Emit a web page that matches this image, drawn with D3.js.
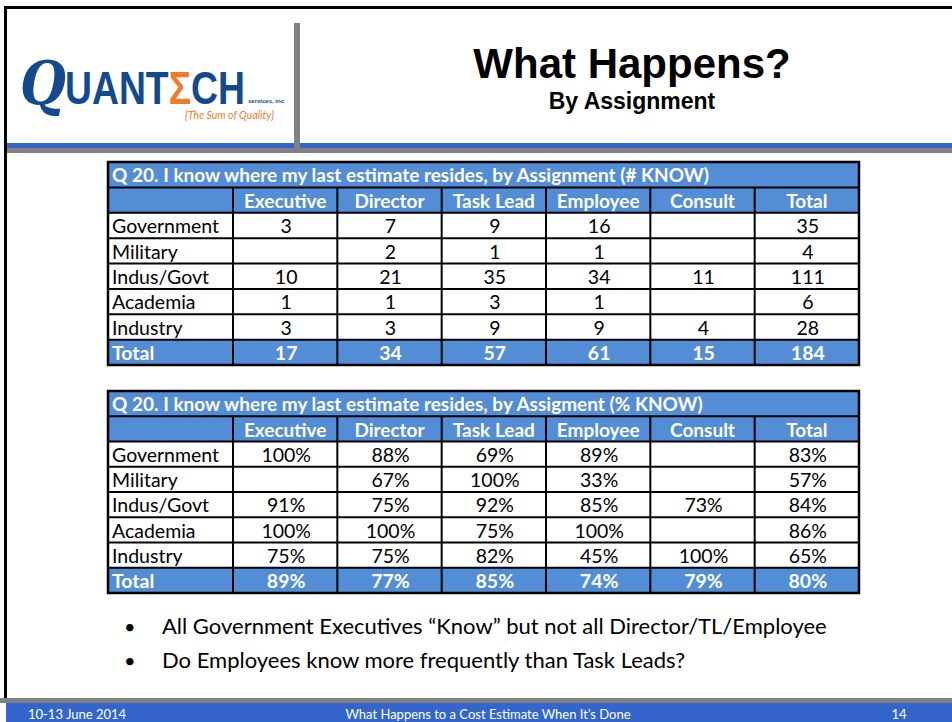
<!DOCTYPE html>
<html>
<head>
<meta charset="utf-8">
<script src="https://cdn.jsdelivr.net/npm/d3@7"></script>
<style>
  html, body { margin: 0; padding: 0; background: #fff; }
  svg { display: block; }
</style>
</head>
<body>
<script>
const W = 952, H = 722;

// data
const columns = ["Executive", "Director", "Task Lead", "Employee", "Consult", "Total"];
const rowNames = ["Government", "Military", "Indus/Govt", "Academia", "Industry", "Total"];
const countGovernment = [3, 7, 9, 16, null, 35];
const countMilitary   = [null, 2, 1, 1, null, 4];
const countIndusGovt  = [10, 21, 35, 34, 11, 111];
const countAcademia   = [1, 1, 3, 1, null, 6];
const countIndustry   = [3, 3, 9, 9, 4, 28];
const countTotal      = [17, 34, 57, 61, 15, 184];
const pctGovernment = [100, 88, 69, 89, null, 83];
const pctMilitary   = [null, 67, 100, 33, null, 57];
const pctIndusGovt  = [91, 75, 92, 85, 73, 84];
const pctAcademia   = [100, 100, 75, 100, null, 86];
const pctIndustry   = [75, 75, 82, 45, 100, 65];
const pctTotal      = [89, 77, 85, 74, 79, 80];
const bullets = [
  "All Government Executives \u201cKnow\u201d but not all Director/TL/Employee",
  "Do Employees know more frequently than Task Leads?"
];

const blueHead = "#538DD5";
const blueBar = "#3366CC";
const grey = "#808080";
const cellFont = "Lato, 'Open Sans', sans-serif";

const svg = d3.select("body").append("svg")
  .attr("width", W)
  .attr("height", H);

svg.append("rect").attr("width", W).attr("height", H).attr("fill", "#fff");

// ---- frame ----
svg.append("rect").attr("x", 4).attr("y", 6).attr("width", W - 4).attr("height", 3).attr("fill", "#000");
svg.append("rect").attr("x", 4).attr("y", 6).attr("width", 3).attr("height", 692).attr("fill", "#000");
svg.append("rect").attr("x", 7).attr("y", 143).attr("width", W - 7).attr("height", 5).attr("fill", blueBar);
svg.append("rect").attr("x", 7).attr("y", 148).attr("width", W - 7).attr("height", 5).attr("fill", grey);
svg.append("rect").attr("x", 294).attr("y", 23).attr("width", 6).attr("height", 125).attr("fill", grey);

// ---- logo ----
const logo = svg.append("g");
logo.append("text")
  .attr("x", 20).attr("y", 104)
  .attr("font-family", "'DejaVu Serif', serif")
  .attr("font-style", "italic")
  .attr("font-weight", "bold")
  .attr("font-size", 60)
  .attr("textLength", 46)
  .attr("lengthAdjust", "spacingAndGlyphs")
  .attr("fill", "#12498F")
  .text("Q");
const word = logo.append("text")
  .attr("x", 65).attr("y", 104)
  .attr("font-family", "'Liberation Sans Narrow', 'Liberation Sans', Arial, sans-serif")
  .attr("font-weight", "bold")
  .attr("font-size", 46)
  .attr("textLength", 180)
  .attr("lengthAdjust", "spacingAndGlyphs")
  .attr("fill", "#12498F");
word.append("tspan").text("UANT");
word.append("tspan").attr("fill", "#F07C2A").text("\u03A3");
word.append("tspan").text("CH");
logo.append("text")
  .attr("x", 248).attr("y", 103)
  .attr("font-family", "'Liberation Sans Narrow', 'Liberation Sans', sans-serif")
  .attr("font-weight", "bold")
  .attr("font-size", 6)
  .attr("textLength", 36)
  .attr("lengthAdjust", "spacingAndGlyphs")
  .attr("fill", "#12498F")
  .text("services, inc");
logo.append("text")
  .attr("x", 185).attr("y", 119)
  .attr("font-family", cellFont)
  .attr("font-style", "italic")
  .attr("font-size", 12)
  .attr("textLength", 89)
  .attr("lengthAdjust", "spacingAndGlyphs")
  .attr("fill", "#F07C2A")
  .text("{The Sum of Quality}");

// ---- title ----
svg.append("text")
  .attr("x", 632).attr("y", 78)
  .attr("text-anchor", "middle")
  .attr("font-family", "'Liberation Sans', Arial, sans-serif")
  .attr("font-weight", "bold")
  .attr("font-size", 42)
  .text("What Happens?");
svg.append("text")
  .attr("x", 632).attr("y", 109)
  .attr("text-anchor", "middle")
  .attr("font-family", "'Liberation Sans', Arial, sans-serif")
  .attr("font-weight", "bold")
  .attr("font-size", 23)
  .text("By Assignment");

// ---- tables ----
function drawTable(top, bottom, title, rowsData, fmt) {
  const left = 108, firstCol = 233, right = 859;
  const y = d3.scaleBand()
    .domain(["title", "header"].concat(rowNames))
    .range([top, bottom]);
  const x = d3.scaleBand()
    .domain(columns)
    .range([firstCol, right]);

  const g = svg.append("g");

  // blue fills
  const blueRows = ["title", "header", "Total"];
  g.selectAll("rect.fill")
    .data(blueRows)
    .join("rect")
    .attr("class", "fill")
    .attr("x", left)
    .attr("y", d => y(d))
    .attr("width", right - left)
    .attr("height", y.bandwidth())
    .attr("fill", blueHead);

  // title
  g.append("text")
    .attr("x", left + 4)
    .attr("y", y("title") + y.bandwidth() - 5)
    .attr("font-family", cellFont)
    .attr("font-weight", "bold")
    .attr("font-size", 19)
    .attr("fill", "#fff")
    .text(title);

  // header
  g.selectAll("text.head")
    .data(columns)
    .join("text")
    .attr("class", "head")
    .attr("x", d => x(d) + x.bandwidth() / 2)
    .attr("y", y("header") + y.bandwidth() - 5)
    .attr("text-anchor", "middle")
    .attr("font-family", cellFont)
    .attr("font-weight", "bold")
    .attr("font-size", 19)
    .attr("fill", "#fff")
    .text(d => d);

  // row labels
  g.selectAll("text.lab")
    .data(rowNames)
    .join("text")
    .attr("class", "lab")
    .attr("x", left + 4)
    .attr("y", d => y(d) + y.bandwidth() - 5)
    .attr("font-family", cellFont)
    .attr("font-weight", d => d === "Total" ? "bold" : "normal")
    .attr("font-size", 19.5)
    .attr("fill", d => d === "Total" ? "#fff" : "#000")
    .text(d => d);

  // values
  const cells = [];
  rowNames.forEach((r, i) => {
    rowsData[i].forEach((v, j) => {
      if (v !== null) cells.push({ row: r, col: columns[j], v: v });
    });
  });
  g.selectAll("text.val")
    .data(cells)
    .join("text")
    .attr("class", "val")
    .attr("x", d => x(d.col) + x.bandwidth() / 2 + 1)
    .attr("y", d => y(d.row) + y.bandwidth() - 5)
    .attr("text-anchor", "middle")
    .attr("font-family", cellFont)
    .attr("font-weight", d => d.row === "Total" ? "bold" : "normal")
    .attr("font-size", 19.5)
    .attr("fill", d => d.row === "Total" ? "#fff" : "#000")
    .text(d => fmt(d.v));

  // grid lines
  const hLines = y.domain().slice(1).map(d => y(d));
  g.selectAll("line.h")
    .data(hLines)
    .join("line")
    .attr("class", "h")
    .attr("x1", left).attr("x2", right)
    .attr("y1", d => d).attr("y2", d => d)
    .attr("stroke", "#000").attr("stroke-width", 2);
  const vLines = [firstCol].concat(columns.slice(1).map(c => x(c)));
  g.selectAll("line.v")
    .data(vLines)
    .join("line")
    .attr("class", "v")
    .attr("x1", d => d).attr("x2", d => d)
    .attr("y1", y("header")).attr("y2", bottom)
    .attr("stroke", "#000").attr("stroke-width", 2);
  g.append("rect")
    .attr("x", left).attr("y", top)
    .attr("width", right - left).attr("height", bottom - top)
    .attr("fill", "none")
    .attr("stroke", "#000").attr("stroke-width", 2.5);
}

drawTable(162, 365,
  "Q 20. I know where my last estimate resides, by Assignment (# KNOW)",
  [countGovernment, countMilitary, countIndusGovt, countAcademia, countIndustry, countTotal],
  d => String(d));

drawTable(391, 593,
  "Q 20. I know where my last estimate resides, by Assigment (% KNOW)",
  [pctGovernment, pctMilitary, pctIndusGovt, pctAcademia, pctIndustry, pctTotal],
  d => d + "%");

// ---- bullets ----
const by = d3.scaleBand().domain(bullets).range([611, 679]);
const bg = svg.selectAll("g.bullet")
  .data(bullets)
  .join("g")
  .attr("class", "bullet")
  .attr("transform", d => `translate(0,${by(d) + by.bandwidth() - 11})`);
bg.append("text")
  .attr("x", 124)
  .attr("font-family", cellFont)
  .attr("font-size", 20)
  .text("\u2022");
bg.append("text")
  .attr("x", 162)
  .attr("font-family", cellFont)
  .attr("font-size", 22)
  .text(d => d);

// ---- footer ----
svg.append("rect").attr("x", 0).attr("y", 698).attr("width", W).attr("height", 5).attr("fill", grey);
svg.append("rect").attr("x", 6).attr("y", 703).attr("width", W - 6).attr("height", 19).attr("fill", blueBar);
const foot = [
  { t: "10-13 June 2014", x: 77 },
  { t: "What Happens to a Cost Estimate When It\u2019s Done", x: 488 },
  { t: "14", x: 899 }
];
svg.selectAll("text.foot")
  .data(foot)
  .join("text")
  .attr("class", "foot")
  .attr("x", d => d.x)
  .attr("y", 719)
  .attr("text-anchor", "middle")
  .attr("font-family", cellFont)
  .attr("font-size", 13)
  .attr("fill", "#fff")
  .text(d => d.t);
</script>
</body>
</html>
